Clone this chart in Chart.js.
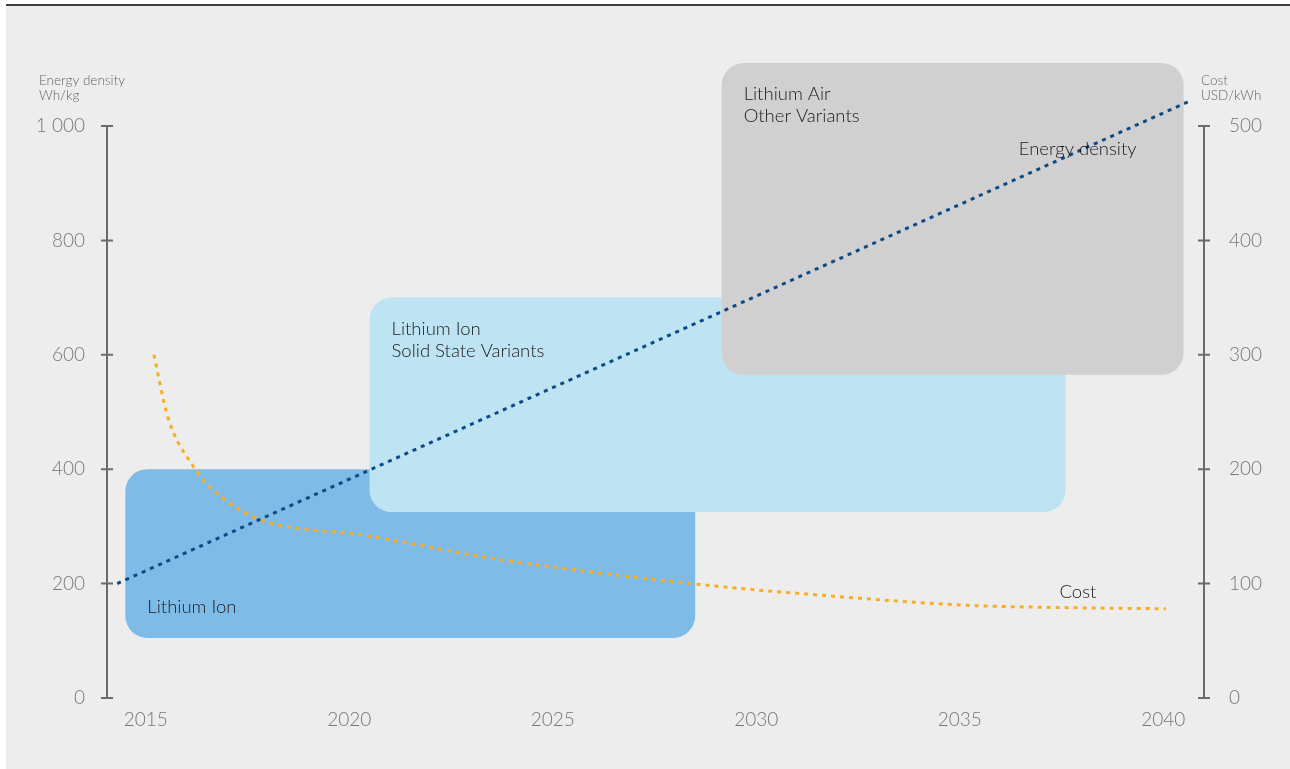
<!DOCTYPE html>
<html>
<head>
<title>Battery energy density and cost</title>
<script src="https://cdn.jsdelivr.net/npm/chart.js@4.4.0/dist/chart.umd.min.js"></script>
<style>
  body {margin: 0; background: #fff;}
  #wrap {width: 1290px; height: 769px; position: relative;}
</style>
</head>
<body>
<div id="wrap"><canvas id="myChart"></canvas></div>

<script>
// x ticks (years)
var years = [2015, 2020, 2025, 2030, 2035, 2040];

// energy density line, Wh/kg
var energyYears = [2014.3, 2040.6];
var energyValues = [200, 1042];

// cost curve, USD/kWh
var costYears = [2015.2, 2015.55, 2016.16, 2016.65, 2017.73, 2018.8, 2020, 2023.7, 2028.4, 2031.9, 2035.2, 2037.6, 2040.06];
var costValues = [300, 245, 203, 182, 157, 148, 144, 121, 100, 89, 81, 79, 78];

// technology boxes (years and Wh/kg)
var boxNames = [['Lithium Ion'], ['Lithium Ion', 'Solid State Variants'], ['Lithium Air', 'Other Variants']];
var boxFrom = [2014.5, 2020.5, 2029.15];
var boxTo = [2028.5, 2037.6, 2040.5];
var boxLow = [105, 325, 565];
var boxHigh = [400, 700, 1110];

var boxColors = ['#7fbbe7', '#bee3f3', '#d0d0d0'];
var boxLabelAtBottom = [true, false, false];

var FONT = 'Lato, "Open Sans", sans-serif';

function fmt(v) {
  if (v >= 1000) return Math.floor(v / 1000) + ' ' + String(v % 1000).padStart(3, '0');
  return String(v);
}

var backdrop = {
  id: 'backdrop',
  beforeDraw: function(chart) {
    var ctx = chart.ctx;
    ctx.save();
    ctx.fillStyle = '#ffffff';
    ctx.fillRect(0, 0, chart.width, chart.height);
    ctx.fillStyle = '#ededed';
    ctx.fillRect(6, 6, chart.width - 6, chart.height - 6);
    ctx.strokeStyle = '#3f3f3f';
    ctx.lineWidth = 2;
    ctx.beginPath();
    ctx.moveTo(6, 5);
    ctx.lineTo(chart.width, 5);
    ctx.stroke();
    ctx.restore();
  }
};

var boxes = {
  id: 'boxes',
  beforeDatasetsDraw: function(chart) {
    var ctx = chart.ctx;
    var x = chart.scales.x, y = chart.scales.y;
    ctx.save();
    for (var i = 0; i < boxNames.length; i++) {
      var l = x.getPixelForValue(boxFrom[i]);
      var r = x.getPixelForValue(boxTo[i]);
      var t = y.getPixelForValue(boxHigh[i]);
      var b = y.getPixelForValue(boxLow[i]);
      ctx.fillStyle = boxColors[i];
      ctx.beginPath();
      ctx.roundRect(l, t, r - l, b - t, 22);
      ctx.fill();

      ctx.fillStyle = '#1a1a1a';
      ctx.font = '300 18.5px ' + FONT;
      ctx.textAlign = 'left';
      ctx.textBaseline = 'alphabetic';
      var lines = boxNames[i];
      for (var k = 0; k < lines.length; k++) {
        var ty;
        if (boxLabelAtBottom[i]) ty = b - 25 - (lines.length - 1 - k) * 22;
        else ty = t + 37 + k * 22;
        ctx.fillText(lines[k], l + 22, ty);
      }
    }
    ctx.restore();
  }
};

var axes = {
  id: 'axes',
  afterDatasetsDraw: function(chart) {
    var ctx = chart.ctx;
    var a = chart.chartArea;
    ctx.save();
    ctx.strokeStyle = '#6b6b6b';
    ctx.lineWidth = 2;
    ['y', 'y1'].forEach(function(id) {
      var s = chart.scales[id];
      var px = id === 'y' ? a.left : a.right;
      ctx.beginPath();
      ctx.moveTo(px, a.top);
      ctx.lineTo(px, a.bottom);
      s.ticks.forEach(function(t) {
        var py = s.getPixelForValue(t.value);
        ctx.moveTo(px - 6, py);
        ctx.lineTo(px + 6, py);
      });
      ctx.stroke();
    });

    // axis titles
    ctx.fillStyle = '#666';
    ctx.font = '300 13.5px ' + FONT;
    ctx.textAlign = 'left';
    ctx.fillText('Energy density', 39, 85);
    ctx.fillText('Wh/kg', 39, 100);
    ctx.fillText('Cost', 1201, 85);
    ctx.fillText('USD/kWh', 1201, 100);

    // series labels
    var x = chart.scales.x, y = chart.scales.y, y1 = chart.scales.y1;
    ctx.fillStyle = '#1a1a1a';
    ctx.font = '300 18.5px ' + FONT;
    ctx.fillText('Energy density', x.getPixelForValue(2036.45), y.getPixelForValue(950));
    ctx.fillText('Cost', x.getPixelForValue(2037.45), y1.getPixelForValue(87.5));
    ctx.restore();
  }
};

var ctx = document.getElementById('myChart').getContext('2d');
var chart = new Chart(ctx, {
  type: 'line',
  data: {
    datasets: [{
      label: 'Energy density',
      data: energyYears.map(function(v, i) { return {x: v, y: energyValues[i]}; }),
      borderColor: '#0b4a87',
      borderWidth: 3,
      borderDash: [4, 5],
      pointRadius: 0,
      clip: false,
      yAxisID: 'y'
    }, {
      label: 'Cost',
      data: costYears.map(function(v, i) { return {x: v, y: costValues[i]}; }),
      borderColor: '#f9ad25',
      borderWidth: 3,
      borderDash: [4, 5],
      pointRadius: 0,
      cubicInterpolationMode: 'monotone',
      clip: false,
      yAxisID: 'y1'
    }]
  },
  options: {
    responsive: true,
    maintainAspectRatio: false,
    animation: false,
    layout: {padding: {top: 126, left: 0, right: 0, bottom: 0}},
    plugins: {legend: {display: false}, tooltip: {enabled: false}},
    scales: {
      x: {
        type: 'linear',
        min: 2014.05,
        max: 2041,
        grid: {display: false},
        border: {display: false},
        afterBuildTicks: function(s) { s.ticks = years.map(function(v) { return {value: v}; }); },
        afterFit: function(s) { s.height = 71; },
        ticks: {
          color: '#777',
          font: {family: FONT, size: 19, weight: 300},
          padding: 2,
          maxRotation: 0,
          callback: function(v) { return String(v); }
        }
      },
      y: {
        position: 'left',
        min: 0,
        max: 1000,
        grid: {display: false},
        border: {display: false},
        afterFit: function(s) { s.width = 107; },
        ticks: {
          stepSize: 200,
          color: '#777',
          font: {family: FONT, size: 19, weight: 300},
          padding: 14,
          callback: function(v) { return fmt(v); }
        }
      },
      y1: {
        position: 'right',
        min: 0,
        max: 500,
        grid: {display: false},
        border: {display: false},
        afterFit: function(s) { s.width = 86; },
        ticks: {
          stepSize: 100,
          color: '#777',
          crossAlign: 'near',
          font: {family: FONT, size: 19, weight: 300},
          padding: 17
        }
      }
    }
  },
  plugins: [backdrop, boxes, axes]
});
</script>
</body>
</html>
